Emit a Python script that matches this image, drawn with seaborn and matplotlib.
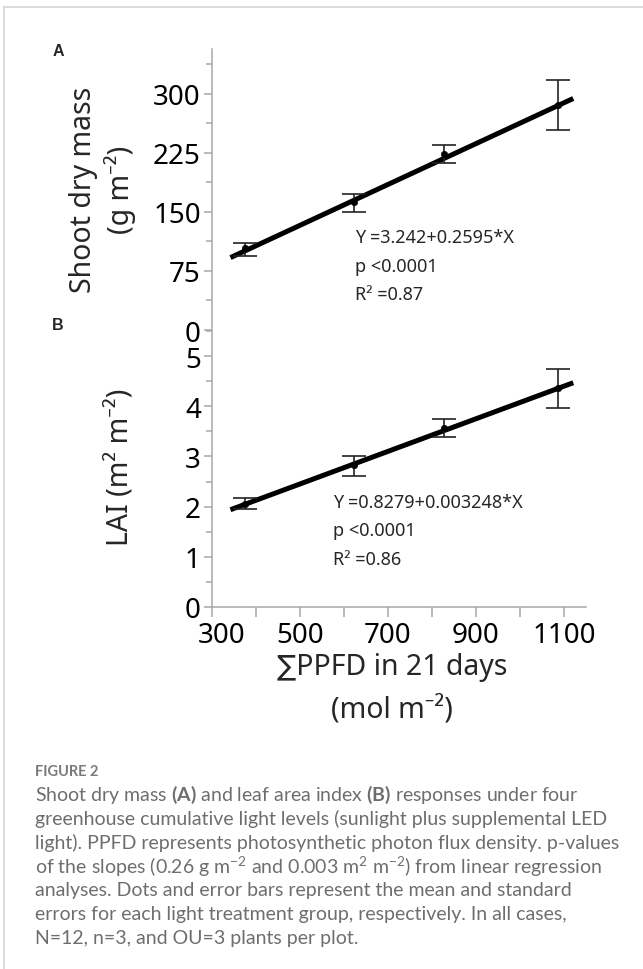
import numpy as np
import pandas as pd
import matplotlib
matplotlib.use("Agg")
import matplotlib.pyplot as plt
import matplotlib.transforms as mtransforms
from matplotlib.lines import Line2D
from matplotlib.ticker import MultipleLocator, FixedLocator, FixedFormatter
import seaborn as sns

# ---------------- data ----------------
ppfd = [376, 623, 828, 1086]
shoot_mean = [104, 163, 224, 286]
shoot_lo = [94, 150, 212, 254]
shoot_hi = [110, 173, 235, 318]
lai_mean = [2.06, 2.82, 3.57, 4.37]
lai_lo = [1.95, 2.61, 3.38, 3.96]
lai_hi = [2.17, 3.01, 3.74, 4.75]
fit_x_range = [342, 1121]
shoot_fit = (3.242, 0.2595)
lai_fit = (0.8279, 0.003248)
x_ticks = [300, 400, 500, 600, 700, 800, 900, 1000, 1100]
x_ticklabels = ["300", "", "500", "", "700", "", "900", "", "1100"]
shoot_ticks = [0, 75, 150, 225, 300]
lai_ticks = [0, 1, 2, 3, 4, 5]
shoot_text = ["Y =3.242+0.2595*X", "p <0.0001", "R² =0.87"]
lai_text = ["Y =0.8279+0.003248*X", "p <0.0001", "R² =0.86"]

sns.set_style("white")
plt.rcParams['font.family'] = ['Noto Sans', 'DejaVu Sans']
plt.rcParams['mathtext.fontset'] = 'custom'
plt.rcParams['mathtext.rm'] = 'Lato'
plt.rcParams['mathtext.it'] = 'Lato:italic'
plt.rcParams['mathtext.bf'] = 'Lato:bold'

W, H = 643, 970
fig = plt.figure(figsize=(W / 100, H / 100), dpi=100)
fig.patch.set_facecolor("white")

def fx(px):
    return px / W

def fy(py):
    return 1 - py / H

axis_left, axis_right = 212, 586
axA = fig.add_axes([fx(axis_left), fy(331), fx(axis_right - axis_left), (331 - 50) / H])
axB = fig.add_axes([fx(axis_left), fy(608), fx(axis_right - axis_left), (608 - 332) / H])

spine_col = "#a8a8a8"
tick_fs = 20

def draw_panel(ax, means, lo, hi, fit):
    df = pd.DataFrame({"x": ppfd, "y": means})
    lx = np.array(fit_x_range, dtype=float)
    ly = fit[0] + fit[1] * lx
    sns.lineplot(x=lx, y=ly, ax=ax, color="black", lw=3.6, solid_capstyle="butt", zorder=3)
    yerr = [np.array(means) - np.array(lo), np.array(hi) - np.array(means)]
    ax.errorbar(ppfd, means, yerr=yerr, fmt="none", ecolor="#222222",
                elinewidth=1.2, capsize=8.5, capthick=1.2, zorder=4)
    sns.scatterplot(data=df, x="x", y="y", ax=ax, color="black", s=22,
                    edgecolor="black", zorder=5, legend=False)
    ax.set_xlim(300, 1150)
    ax.set_xlabel("")
    ax.set_ylabel("")
    for s in ["top", "right"]:
        ax.spines[s].set_visible(False)
    ax.spines["left"].set_color(spine_col)
    ax.spines["left"].set_linewidth(1.1)
    ax.tick_params(axis="y", which="major", direction="out", length=6, width=1.1,
                   color=spine_col, labelsize=tick_fs, labelcolor="black", pad=2, left=True)
    ax.tick_params(axis="y", which="minor", direction="out", length=4, width=1.1,
                   color=spine_col, left=True)
    ax.set_facecolor("none")

draw_panel(axA, shoot_mean, shoot_lo, shoot_hi, shoot_fit)
draw_panel(axB, lai_mean, lai_lo, lai_hi, lai_fit)

# Panel A axes
axA.set_ylim(0, 357)
axA.yaxis.set_major_locator(FixedLocator(shoot_ticks))
axA.yaxis.set_minor_locator(MultipleLocator(37.5))
axA.spines["bottom"].set_visible(False)
axA.tick_params(axis="x", bottom=False, labelbottom=False)

# Panel B axes
axB.set_ylim(0, 5.5)
axB.yaxis.set_major_locator(FixedLocator(lai_ticks))
axB.yaxis.set_minor_locator(MultipleLocator(0.5))
axB.spines["bottom"].set_color(spine_col)
axB.spines["bottom"].set_linewidth(1.1)
axB.xaxis.set_major_locator(FixedLocator(x_ticks))
axB.xaxis.set_major_formatter(FixedFormatter(x_ticklabels))
axB.tick_params(axis="x", which="major", direction="out", length=7, width=1.1,
                color=spine_col, labelsize=tick_fs, labelcolor="black", pad=3, bottom=True)
# shift the first x label right as in the reference
lbl = axB.get_xticklabels()[0]
lbl.set_transform(lbl.get_transform() + mtransforms.ScaledTranslation(10 / 100, 0, fig.dpi_scale_trans))

# axis labels
fig.text(fx(84), fy(190), "Shoot dry mass", rotation=90, ha="center", va="center", fontsize=20.5)
fig.text(fx(120), fy(190), "(g m⁻²)", rotation=90, ha="center", va="center", fontsize=20.5)
fig.text(fx(120), fy(467), "LAI (m² m⁻²)", rotation=90, ha="center", va="center", fontsize=20.5)
fig.text(fx(392), fy(668), "∑PPFD in 21 days", ha="center", va="center", fontsize=20.5)
fig.text(fx(392), fy(710), "(mol m⁻²)", ha="center", va="center", fontsize=20.5)

# panel letters
fig.text(fx(53), fy(52), "A", ha="left", va="center", fontsize=11.5, fontweight="bold",
         family="Liberation Sans")
fig.text(fx(52), fy(326), "B", ha="left", va="center", fontsize=11.5, fontweight="bold",
         family="Liberation Sans")

# regression annotations
for i, t in enumerate(shoot_text):
    fig.text(fx(355), fy(238 + 28.5 * i), t, ha="left", va="center", fontsize=13)
for i, t in enumerate(lai_text):
    fig.text(fx(333), fy(503 + 28.5 * i), t, ha="left", va="center", fontsize=13)

# caption
cap_col = "#6e6e6e"
fig.text(fx(35), fy(772), "FIGURE 2", ha="left", va="center", fontsize=10.5,
         fontweight="bold", color="#7a7a7a", family="Lato")
caption_lines = [
    r"Shoot dry mass $\mathbf{(A)}$ and leaf area index $\mathbf{(B)}$ responses under four",
    "greenhouse cumulative light levels (sunlight plus supplemental LED",
    "light). PPFD represents photosynthetic photon flux density. p-values",
    r"of the slopes (0.26 g m$^{-2}$ and 0.003 m$^{2}$ m$^{-2}$) from linear regression",
    "analyses. Dots and error bars represent the mean and standard",
    "errors for each light treatment group, respectively. In all cases,",
    "N=12, n=3, and OU=3 plants per plot.",
]
for i, t in enumerate(caption_lines):
    fig.text(fx(35), fy(795 + 24 * i), t, ha="left", va="center", fontsize=14,
             color=cap_col, family="Lato", fontweight="normal")

# page border lines
fig.add_artist(Line2D([fx(4), 1], [fy(8), fy(8)], color="#d4d4d4", lw=1.2))
fig.add_artist(Line2D([fx(4), fx(4)], [fy(8), 0], color="#d4d4d4", lw=1.2))

fig.savefig("out.png", dpi=100, facecolor="white")
